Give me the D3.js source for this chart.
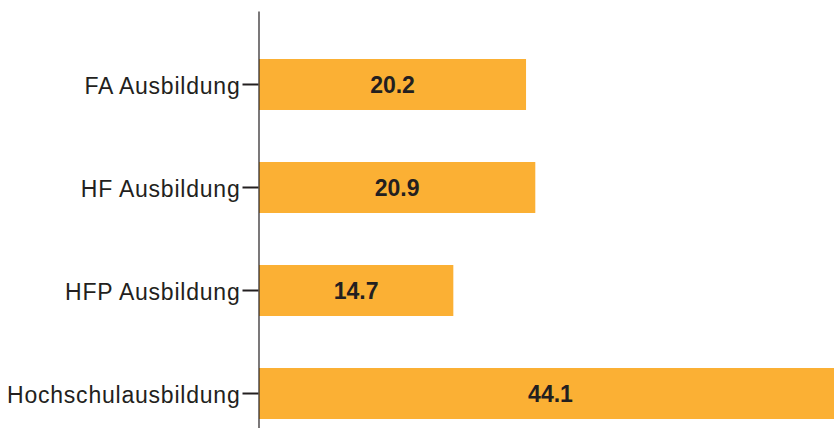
<!DOCTYPE html>
<html>
<head>
<meta charset="utf-8">
<script src="https://cdn.jsdelivr.net/npm/d3@7"></script>
<style>
  body { margin: 0; background: #fff; }
  svg { display: block; }
  .tick text { font-family: "Liberation Sans", Arial, sans-serif; font-size: 23px; fill: #231f20; letter-spacing: 0.78px; }
  .valueLabel { font-family: "Liberation Sans", Arial, sans-serif; font-size: 23px; font-weight: bold; fill: #231f20; }
</style>
</head>
<body>
<div id="chart"></div>
<script>
// categories and values
var categories = ["FA Ausbildung", "HF Ausbildung", "HFP Ausbildung", "Hochschulausbildung"];
var values = [20.2, 20.9, 14.7, 44.1];

var width = 834, height = 428;
var left = 259;

var svg = d3.select("#chart").append("svg")
    .attr("width", width)
    .attr("height", height);

var data = categories.map(function(c, i){
    return {name: c, value: values[i]};
});

//x scale: the longest bar runs past the right edge, as in the original
var xScale = d3.scaleLinear()
    .domain([0, 44.1])
    .range([0, 583]);

var yScale = d3.scaleBand()
    .domain(categories)
    .range([11, 467])
    .paddingInner(0.505)
    .paddingOuter(0.466);

svg.selectAll("rect.bar")
    .data(data)
    .enter()
    .append("rect")
    .attr("class", "bar")
    .attr("x", left)
    .attr("y", function(d){ return yScale(d.name); })
    .attr("width", function(d){ return xScale(d.value); })
    .attr("height", yScale.bandwidth())
    .attr("fill", "#fbb034");

svg.selectAll("text.valueLabel")
    .data(data)
    .enter()
    .append("text")
    .attr("class", "valueLabel")
    .attr("x", function(d){ return left + xScale(d.value) / 2; })
    .attr("y", function(d){ return yScale(d.name) + yScale.bandwidth() / 2; })
    .attr("dy", "0.38em")
    .attr("text-anchor", "middle")
    .text(function(d){ return d3.format(".1f")(d.value); });

var yAxis = d3.axisLeft(yScale)
    .tickSizeInner(16)
    .tickSizeOuter(0)
    .tickPadding(2);

var gAxis = svg.append("g")
    .attr("transform", "translate(" + (left - 0.5) + ",0)")
    .call(yAxis);

gAxis.select(".domain").attr("stroke", "#231f20").attr("stroke-width", 1.2);
gAxis.selectAll(".tick line").attr("stroke", "#231f20").attr("stroke-width", 2);
gAxis.selectAll(".tick text").attr("dy", "0.42em");
</script>
</body>
</html>
